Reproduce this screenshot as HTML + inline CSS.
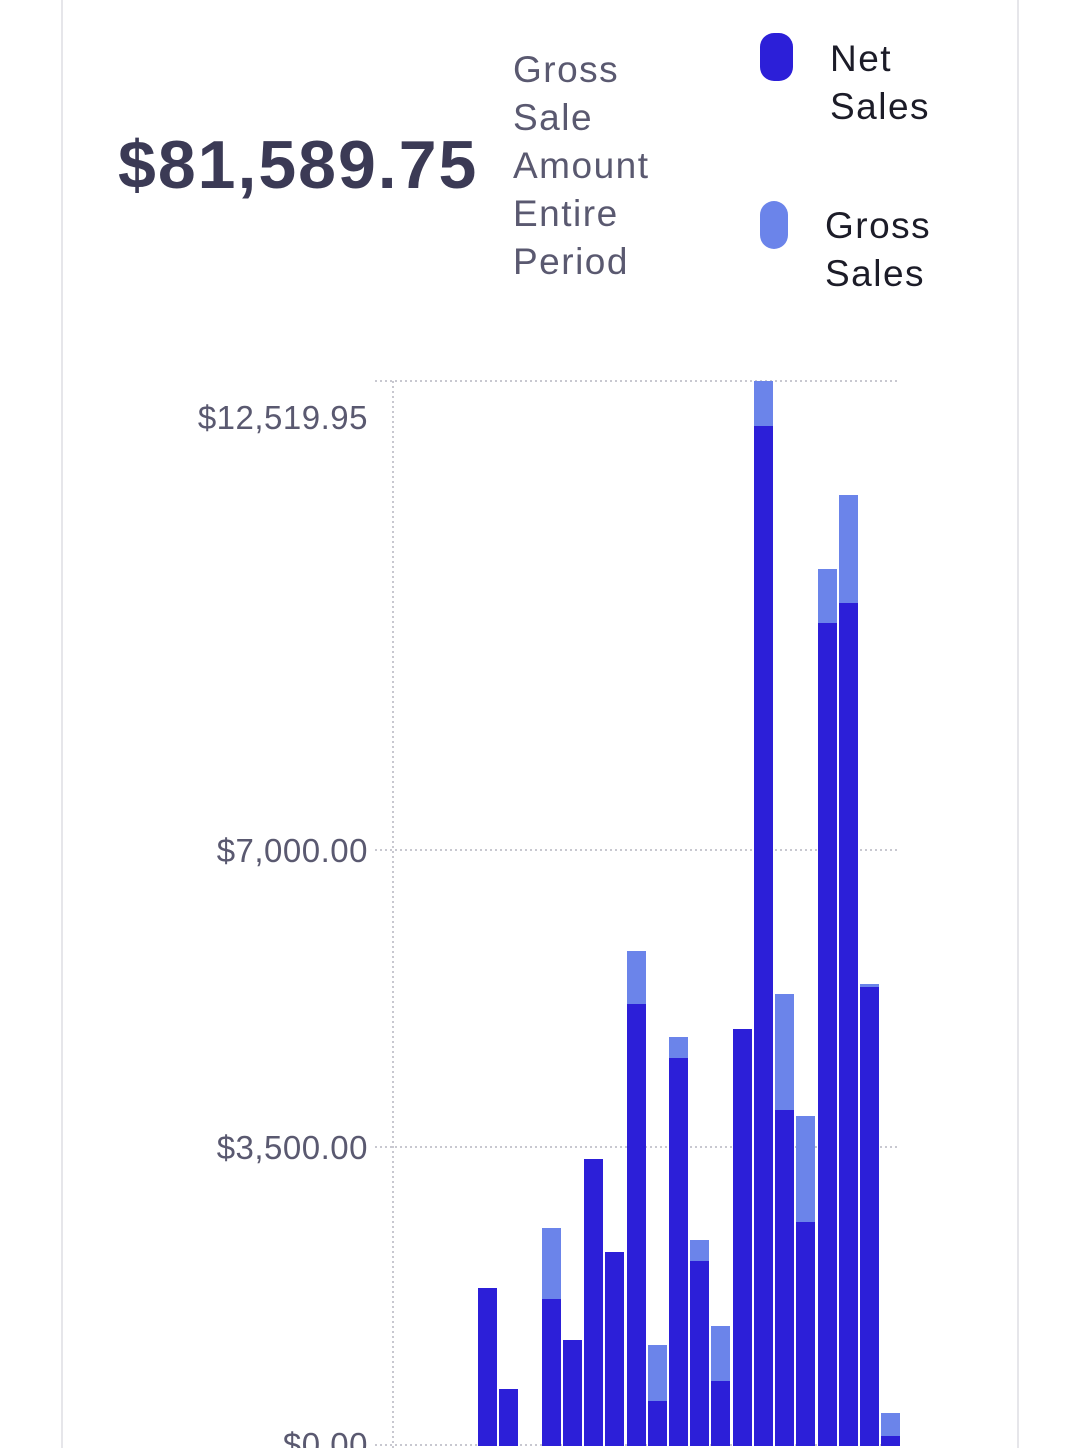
<!DOCTYPE html>
<html><head><style>
body{margin:0;width:1080px;height:1448px;background:#fff;overflow:hidden;position:relative;font-family:"Liberation Sans",sans-serif}
.t{position:absolute;white-space:nowrap}
</style></head><body>
<div style="position:absolute;left:61px;top:0;width:2px;height:1448px;background:#e6e6ea"></div>
<div style="position:absolute;left:1017px;top:0;width:2px;height:1448px;background:#e6e6ea"></div>
<div class="t" style="left:118px;top:126px;font-size:68px;font-weight:bold;color:#3b3a55;letter-spacing:2px">$81,589.75</div>
<div class="t" style="left:513px;top:46px;font-size:37px;line-height:48px;color:#5a5970;letter-spacing:1.5px">Gross<br>Sale<br>Amount<br>Entire<br>Period</div>
<div style="position:absolute;left:760px;top:33px;width:33px;height:48px;border-radius:14px;background:#2c1fd8"></div>
<div class="t" style="left:830px;top:35px;font-size:37px;line-height:48px;color:#1c1c28;letter-spacing:1.5px">Net<br>Sales</div>
<div style="position:absolute;left:760px;top:201px;width:28px;height:48px;border-radius:14px;background:#6b84ea"></div>
<div class="t" style="left:825px;top:202px;font-size:37px;line-height:48px;color:#1c1c28;letter-spacing:1.5px">Gross<br>Sales</div>
<svg width="1080" height="1448" style="position:absolute;left:0;top:0" font-family="Liberation Sans, sans-serif">
<g stroke="#c8c8d0" stroke-width="2" stroke-dasharray="2,3">
<line x1="375" y1="381" x2="900" y2="381"/>
<line x1="375" y1="850" x2="900" y2="850"/>
<line x1="375" y1="1147" x2="900" y2="1147"/>
<line x1="375" y1="1445" x2="900" y2="1445"/>
<line x1="393" y1="381" x2="393" y2="1448"/>
</g>
<g font-size="33" fill="#5a5970" text-anchor="end" letter-spacing="0.5">
<text x="368" y="429">$12,519.95</text>
<text x="368" y="862">$7,000.00</text>
<text x="368" y="1159">$3,500.00</text>
<text x="368" y="1456">$0.00</text>
</g>
<g id="bars"></g>
</svg>
<script>
var d=[[478,0,1288],[499,0,1389],[542,1228,1299],[563,0,1340],[584,0,1159],[605,0,1252],[627,951,1004],[648,1345,1401],[669,1037,1058],[690,1240,1261],[711,1326,1381],[733,0,1029],[754,381,426],[775,994,1110],[796,1116,1222],[818,569,623],[839,495,603],[860,984,987],[881,1413,1436]];
var s='';d.forEach(function(b){if(b[1])s+='<rect x="'+b[0]+'" y="'+b[1]+'" width="19" height="'+(b[2]-b[1])+'" fill="#6b84ea"/>';s+='<rect x="'+b[0]+'" y="'+b[2]+'" width="19" height="'+(1446-b[2])+'" fill="#2c1fd8"/>';});
document.getElementById('bars').innerHTML=s;
</script>
</body></html>
